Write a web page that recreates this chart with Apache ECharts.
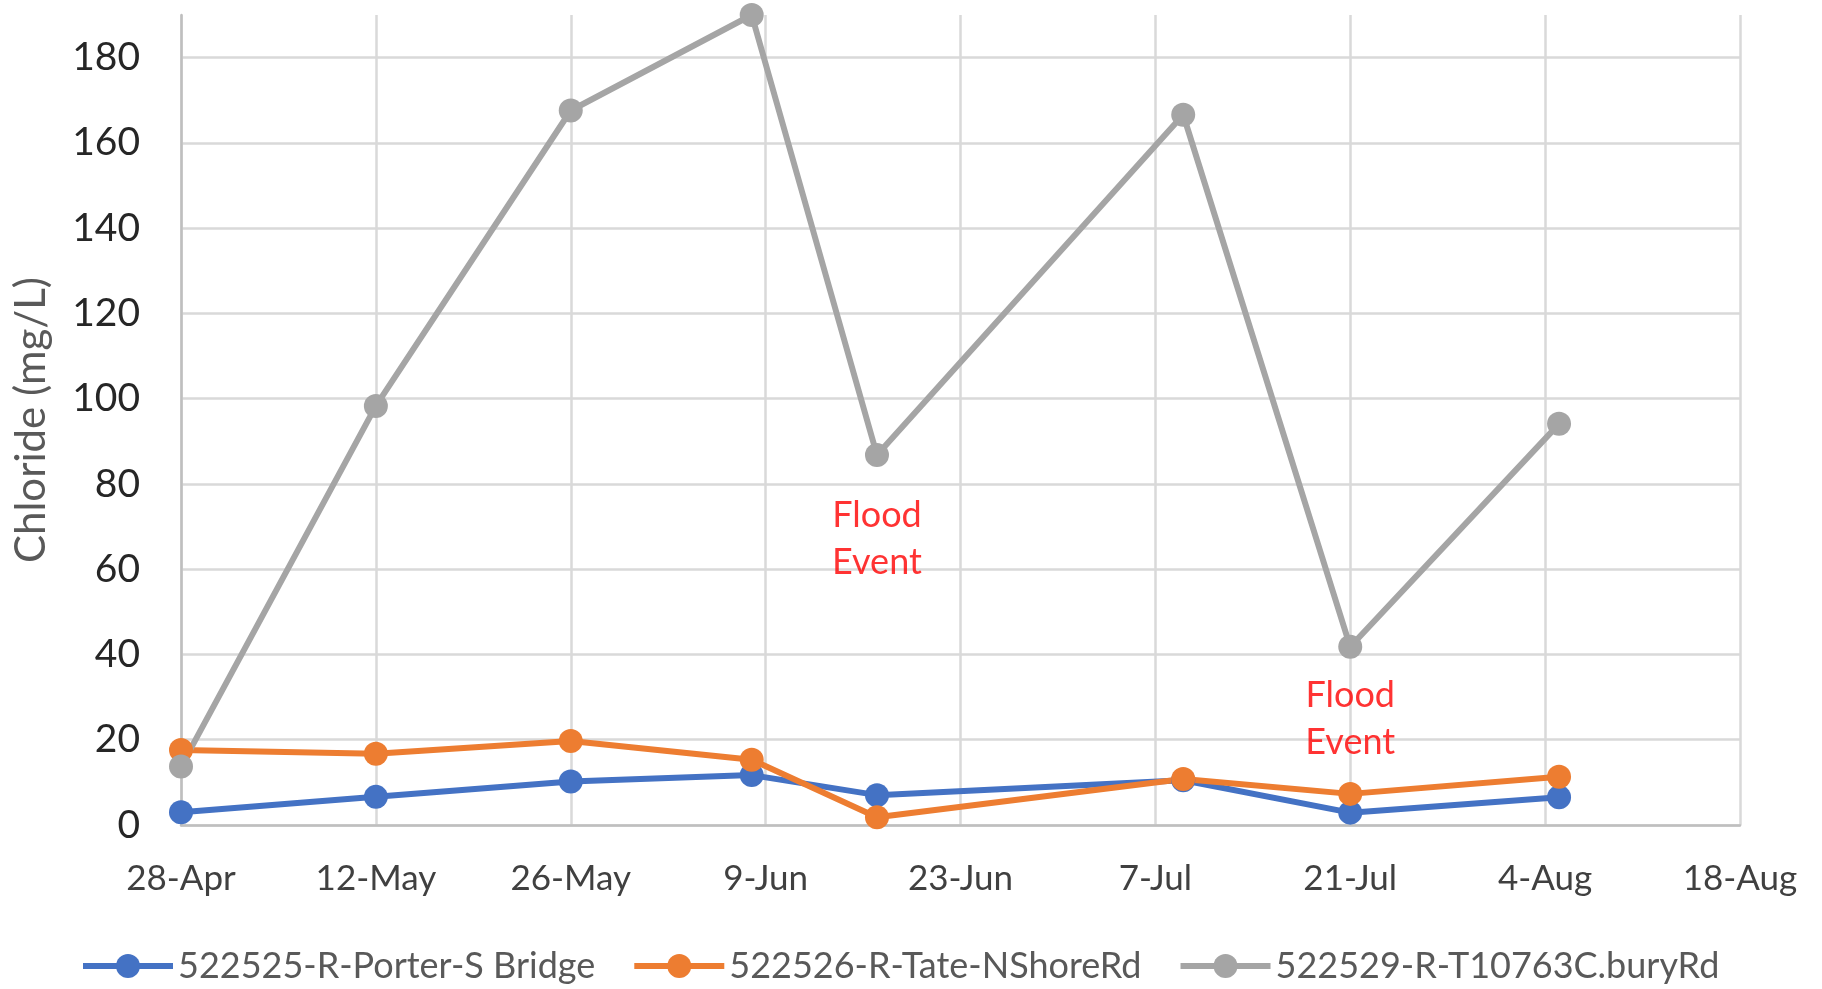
<!DOCTYPE html>
<html>
<head>
<meta charset="utf-8">
<title>Chloride (mg/L)</title>
<script src="https://cdn.jsdelivr.net/npm/echarts@6/dist/echarts.min.js"></script>
<style>
  html, body { margin: 0; padding: 0; background: #ffffff; }
  #chart { width: 1822px; height: 989px; }
</style>
</head>
<body>
<div id="chart"></div>
<script>
// Sampling dates and chloride concentrations (mg/L) for each site
const sampleDates = ['28-Apr', '12-May', '26-May', '8-Jun', '17-Jun', '9-Jul', '21-Jul', '5-Aug'];
const seriesNames = ['522525-R-Porter-S Bridge', '522526-R-Tate-NShoreRd', '522529-R-T10763C.buryRd'];
const porterValues = [3.0, 6.6, 10.2, 11.7, 7.0, 10.5, 2.9, 6.5];
const tateValues = [17.6, 16.7, 19.7, 15.3, 1.8, 10.8, 7.3, 11.3];
const buryValues = [13.7, 98.3, 167.6, 190.0, 86.8, 166.6, 41.8, 94.1];

// Date axis tick labels (every 14 days)
const tickLabels = ['28-Apr', '12-May', '26-May', '9-Jun', '23-Jun', '7-Jul', '21-Jul', '4-Aug', '18-Aug'];
const yTicks = [0, 20, 40, 60, 80, 100, 120, 140, 160, 180];

// Flood event annotations: date and height of the text
const floodDates = ['17-Jun', '21-Jul'];
const floodLabelY = [67, 25];
const floodText = 'Flood\nEvent';

const MONTHS = { Jan: 0, Feb: 1, Mar: 2, Apr: 3, May: 4, Jun: 5, Jul: 6, Aug: 7, Sep: 8, Oct: 9, Nov: 10, Dec: 11 };
function toTime(label) {
  const [d, m] = label.split('-');
  return Date.UTC(2001, MONTHS[m], Number(d));
}
const t0 = toTime(tickLabels[0]);
function dayOf(label) { return Math.round((toTime(label) - t0) / 86400000); }

const xTickDays = tickLabels.map(dayOf);
const xInterval = xTickDays[1] - xTickDays[0];
const pairs = vals => sampleDates.map((d, i) => [dayOf(d), vals[i]]);

const colors = ['#4472C4', '#ED7D31', '#A5A5A5'];
const FONT = 'Lato, "Open Sans", sans-serif';

function lineSeries(name, vals, color) {
  return {
    name: name,
    type: 'line',
    data: pairs(vals),
    symbol: 'circle',
    symbolSize: 24,
    smooth: false,
    clip: false,
    lineStyle: { color: color, width: 6 },
    itemStyle: { color: color },
    emphasis: { disabled: true }
  };
}

const chart = echarts.init(document.getElementById('chart'), null, { renderer: 'canvas' });

chart.setOption({
  animation: false,
  backgroundColor: '#ffffff',
  color: colors,
  grid: { left: 181, right: 82, top: 15, bottom: 164, containLabel: false, outerBoundsMode: 'none' },
  xAxis: {
    type: 'value',
    min: xTickDays[0],
    max: xTickDays[xTickDays.length - 1],
    interval: xInterval,
    axisLine: { show: true, lineStyle: { color: '#bfbfbf', width: 2.5 } },
    axisTick: { show: false },
    splitLine: { show: true, lineStyle: { color: '#d9d9d9', width: 2.5 } },
    axisLabel: {
      margin: 36,
      fontFamily: FONT,
      fontSize: 35,
      color: '#404040',
      formatter: v => tickLabels[xTickDays.indexOf(v)] || ''
    }
  },
  yAxis: {
    type: 'value',
    min: 0,
    max: 190,
    interval: 20,
    name: 'Chloride (mg/L)',
    nameLocation: 'middle',
    nameRotate: 90,
    nameGap: 129,
    nameTextStyle: { fontFamily: FONT, fontSize: 42, color: '#595959' },
    axisLine: { show: true, lineStyle: { color: '#bfbfbf', width: 2.5 } },
    axisTick: { show: false },
    splitLine: { show: true, showMaxLine: false, lineStyle: { color: '#d9d9d9', width: 2.5 } },
    axisLabel: {
      margin: 41,
      fontFamily: FONT,
      fontSize: 39,
      color: '#262626',
      showMaxLabel: false,
      formatter: v => (yTicks.indexOf(v) >= 0 ? String(v) : '')
    }
  },
  legend: {
    data: seriesNames,
    left: 75,
    top: 943,
    itemWidth: 90,
    itemHeight: 30,
    itemGap: 36,
    lineStyle: { width: 6 },
    textStyle: { fontFamily: FONT, fontSize: 36, color: '#595959' }
  },
  series: [
    lineSeries(seriesNames[0], porterValues, colors[0]),
    lineSeries(seriesNames[1], tateValues, colors[1]),
    lineSeries(seriesNames[2], buryValues, colors[2]),
    {
      name: 'flood',
      type: 'scatter',
      symbolSize: 0,
      silent: true,
      data: floodDates.map((d, i) => [dayOf(d), floodLabelY[i]]),
      label: {
        show: true,
        position: 'inside',
        formatter: floodText,
        fontFamily: FONT,
        fontSize: 36,
        lineHeight: 47,
        color: '#FF0000'
      }
    }
  ]
});
</script>
</body>
</html>
